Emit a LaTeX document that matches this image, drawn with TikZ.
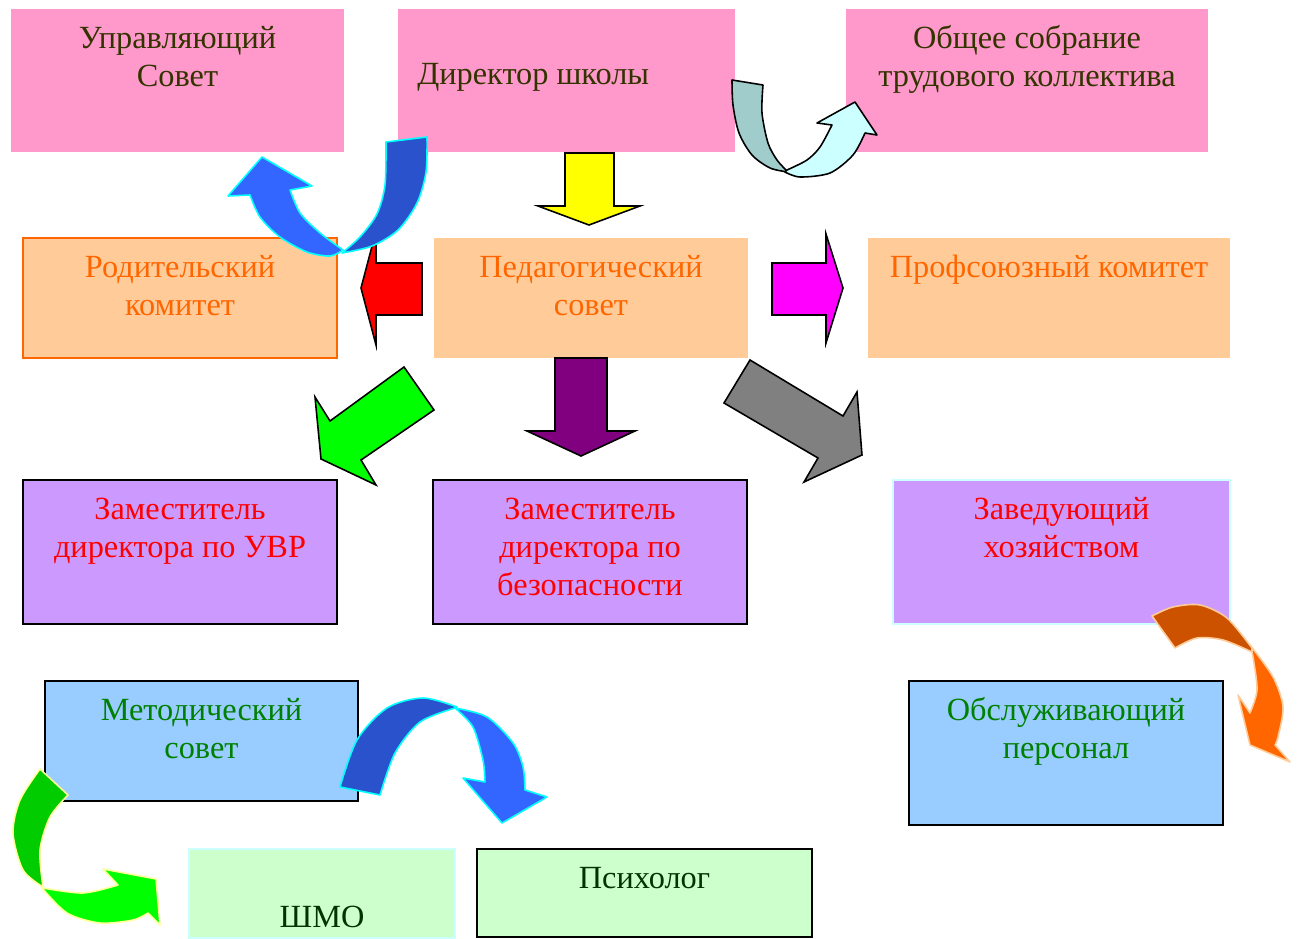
\documentclass[tikz,border=0pt]{standalone}
\usepackage{fontspec}
\setmainfont{Liberation Serif}
\usetikzlibrary{positioning}

\definecolor{pinkbox}{HTML}{FF99CC}
\definecolor{peach}{HTML}{FFCC99}
\definecolor{lilac}{HTML}{CC99FF}
\definecolor{skyblue}{HTML}{99CCFF}
\definecolor{mint}{HTML}{CCFFCC}
\definecolor{palecyan}{HTML}{CCFFFF}
\definecolor{darkbrown}{HTML}{333300}
\definecolor{orangetxt}{HTML}{FF6600}
\definecolor{greentxt}{HTML}{008000}
\definecolor{darkgreen}{HTML}{003300}
\definecolor{redtxt}{HTML}{FF0000}
\definecolor{royal}{HTML}{2952CC}
\definecolor{brightblue}{HTML}{3366FF}
\definecolor{aqua}{HTML}{00FFFF}
\definecolor{tealgray}{HTML}{A0CCCC}
\definecolor{leaf}{HTML}{00CC00}
\definecolor{lime}{HTML}{00FF00}
\definecolor{rust}{HTML}{CC5200}
\definecolor{pumpkin}{HTML}{FF6600}
\definecolor{paleyellow}{HTML}{FFFF99}
\definecolor{lemon}{HTML}{FFFF00}
\definecolor{fuchsia}{HTML}{FF00FF}
\definecolor{purp}{HTML}{800080}
\definecolor{grayarr}{HTML}{808080}

\tikzstyle{box}=[inner sep=0pt, outer sep=0pt, minimum width=6.28cm, minimum height=2.88cm]
\tikzstyle{txt}=[inner sep=0pt, align=center, font=\fontsize{18.4}{21.6}\selectfont]
\tikzstyle{blk}=[draw=black, line width=0.9pt, line join=miter]
\tikzstyle{bent}=[line width=0.9pt, line join=round]

\begin{document}
\begin{tikzpicture}[x=0.02cm, y=-0.02cm]
      \useasboundingbox (0,0) rectangle (1299,939);

      % top row
      \node[box, fill=pinkbox, minimum width=6.66cm, minimum height=2.86cm] (upravl) at (177.5,80.5) {};
      \node[box, fill=pinkbox, minimum width=6.74cm, minimum height=2.86cm] (direktor) at (566.5,80.5) {};
      \node[box, fill=pinkbox, minimum width=7.24cm, minimum height=2.86cm] (sobranie) at (1027,80.5) {};
      \node[txt, text=darkbrown, below=7.2pt of upravl.north] (upravl-t) {\strut Управляющий\\Совет};
      \node[txt, text=darkbrown, anchor=base west] (direktor-t) at (417,85) {Директор школы};
      \node[txt, text=darkbrown, below=7.2pt of sobranie.north] (sobranie-t) {\strut Общее собрание\\трудового коллектива};

      % councils
      \node[box, fill=peach, draw=orangetxt, line width=0.9pt, minimum height=2.4cm] (roditel) at (180,298) {};
      \node[box, fill=peach, minimum height=2.4cm] (pedsovet) at (591,298) {};
      \node[box, fill=peach, minimum width=7.24cm, minimum height=2.4cm] (profkom) at (1049,298) {};
      \node[txt, text=orangetxt, below=7.2pt of roditel.north] (roditel-t) {\strut Родительский\\комитет};
      \node[txt, text=orangetxt, below=7.2pt of pedsovet.north] (pedsovet-t) {\strut Педагогический\\совет};
      \node[txt, text=orangetxt, below=7.2pt of profkom.north] (profkom-t) {\strut Профсоюзный комитет};

      % deputies
      \node[box, fill=lilac, draw=black, line width=0.9pt] (zamuvr) at (180,552) {};
      \node[box, fill=lilac, draw=black, line width=0.9pt] (zambez) at (590,552) {};
      \node[box, fill=lilac, draw=palecyan, line width=0.9pt, minimum width=6.74cm] (zavhoz) at (1061.5,552) {};
      \node[txt, text=redtxt, below=7.2pt of zamuvr.north] (zamuvr-t) {\strut Заместитель\\директора по УВР};
      \node[txt, text=redtxt, below=7.2pt of zambez.north] (zambez-t) {\strut Заместитель\\директора по\\безопасности};
      \node[txt, text=redtxt, below=7.2pt of zavhoz.north] (zavhoz-t) {\strut Заведующий\\хозяйством};

      % bottom
      \node[box, fill=skyblue, draw=black, line width=0.9pt, minimum width=6.26cm, minimum height=2.4cm] (metsovet) at (201.5,741) {};
      \node[box, fill=skyblue, draw=black, line width=0.9pt] (obsluzh) at (1066,753) {};
      \node[box, fill=mint, draw=palecyan, line width=0.9pt, minimum width=5.32cm, minimum height=1.78cm] (shmo) at (322,893.5) {};
      \node[box, fill=mint, draw=black, line width=0.9pt, minimum width=6.7cm, minimum height=1.76cm] (psiholog) at (644.5,893) {};
      \node[txt, text=greentxt, below=7.2pt of metsovet.north] (metsovet-t) {\strut Методический\\совет};
      \node[txt, text=greentxt, below=7.2pt of obsluzh.north] (obsluzh-t) {\strut Обслуживающий\\персонал};
      \node[txt, text=darkgreen, anchor=base] (shmo-t) at (322,927) {ШМО};
      \node[txt, text=darkgreen, below=7.2pt of psiholog.north] (psiholog-t) {\strut Психолог};

      % straight block arrows
      \draw[blk, fill=lemon] (565,153) -- (614,153) -- (614,206) -- (640,206) -- (589,225) -- (538,206) -- (565,206) -- cycle;
      \draw[blk, fill=redtxt] (422,263) -- (422,315) -- (376,315) -- (376,345) -- (361,288) -- (376,231) -- (376,263) -- cycle;
      \draw[blk, fill=fuchsia] (772,263) -- (826,263) -- (826,234) -- (843,288) -- (826,343) -- (826,315) -- (772,315) -- cycle;
      \draw[blk, fill=purp] (555,358) -- (607,358) -- (607,431) -- (635,431) -- (581,456) -- (527,431) -- (555,431) -- cycle;
      \draw[blk, fill=lime] (404,367) -- (434,410) -- (361,460) -- (376,485) -- (321,459) -- (315,397) -- (330,421) -- cycle;
      \draw[blk, fill=grayarr] (750,360) -- (843,416) -- (857,392) -- (862,455) -- (804,482) -- (818,458) -- (724,403) -- cycle;

      % curved arrows
      \draw[bent, draw=aqua, fill=brightblue] (343,250) -- plot[smooth] coordinates {(343,250) (320,233) (300,213) (290,190)}
            -- (312,186) -- (262,157) -- (228,196) -- (250,195)
            -- plot[smooth] coordinates {(250,195) (260,217) (280,237) (307,252) (330,256) (343,250)} -- cycle;
      \draw[bent, draw=aqua, fill=royal] (386,142) -- (427,137)
            -- plot[smooth] coordinates {(427,137) (426,172) (417,203) (398,230) (372,246) (342,253)}
            -- plot[smooth] coordinates {(342,253) (360,237) (377,214) (385,185) (386,142)} -- cycle;

      \draw[bent, draw=black, fill=tealgray] (732,80) -- (763,85)
            -- plot[smooth] coordinates {(763,85) (762,113) (768,143) (777,160) (788,172)}
            -- plot[smooth] coordinates {(788,172) (770,168) (752,155) (739,133) (733,105) (732,80)} -- cycle;
      \draw[bent, draw=black, fill=palecyan] (785,172)
            -- plot[smooth] coordinates {(785,172) (800,177) (830,173) (853,155) (865,133)}
            -- (877,135) -- (855,102) -- (817,123) -- (832,125)
            -- plot[smooth] coordinates {(832,125) (820,147) (807,160) (787,170)} -- cycle;

      \draw[bent, draw=paleyellow, fill=leaf] (40,769) -- (68,795)
            -- plot[smooth] coordinates {(68,795) (50,817) (40,850) (43,887)}
            -- plot[smooth] coordinates {(43,887) (23,870) (13,833) (20,800) (40,769)} -- cycle;
      \draw[bent, draw=paleyellow, fill=lime] (42,888)
            -- plot[smooth] coordinates {(42,888) (67,913) (100,923) (133,920) (148,913)}
            -- (160,925) -- (156,879) -- (103,869) -- (118,885)
            -- plot[smooth] coordinates {(118,885) (83,893) (43,888)} -- cycle;

      \draw[bent, draw=aqua, fill=royal] (340,787)
            -- plot[smooth] coordinates {(340,787) (357,740) (387,708) (423,698) (457,707)}
            -- plot[smooth] coordinates {(455,708) (420,722) (395,753) (380,795)} -- cycle;
      \draw[bent, draw=aqua, fill=brightblue] (455,708)
            -- plot[smooth] coordinates {(455,708) (487,717) (513,743) (523,767) (525,790)}
            -- (547,797) -- (502,823) -- (463,778) -- (485,782)
            -- plot[smooth] coordinates {(485,782) (483,760) (473,727) (455,708)} -- cycle;

      \draw[bent, draw=peach, fill=pumpkin] (1250,645)
            -- plot[smooth] coordinates {(1250,645) (1273,677) (1283,707) (1278,737) (1275,745)}
            -- (1290,762) -- (1250,745) -- (1238,695) -- (1250,713)
            -- plot[smooth] coordinates {(1250,713) (1257,690) (1253,657) (1250,645)} -- cycle;
      \draw[bent, draw=peach, fill=rust] (1152,616)
            -- plot[smooth] coordinates {(1152,616) (1173,607) (1200,605) (1227,618) (1252,648)}
            -- plot[smooth] coordinates {(1252,652) (1223,640) (1197,638) (1175,648)} -- cycle;
    \end{tikzpicture}
\end{document}
